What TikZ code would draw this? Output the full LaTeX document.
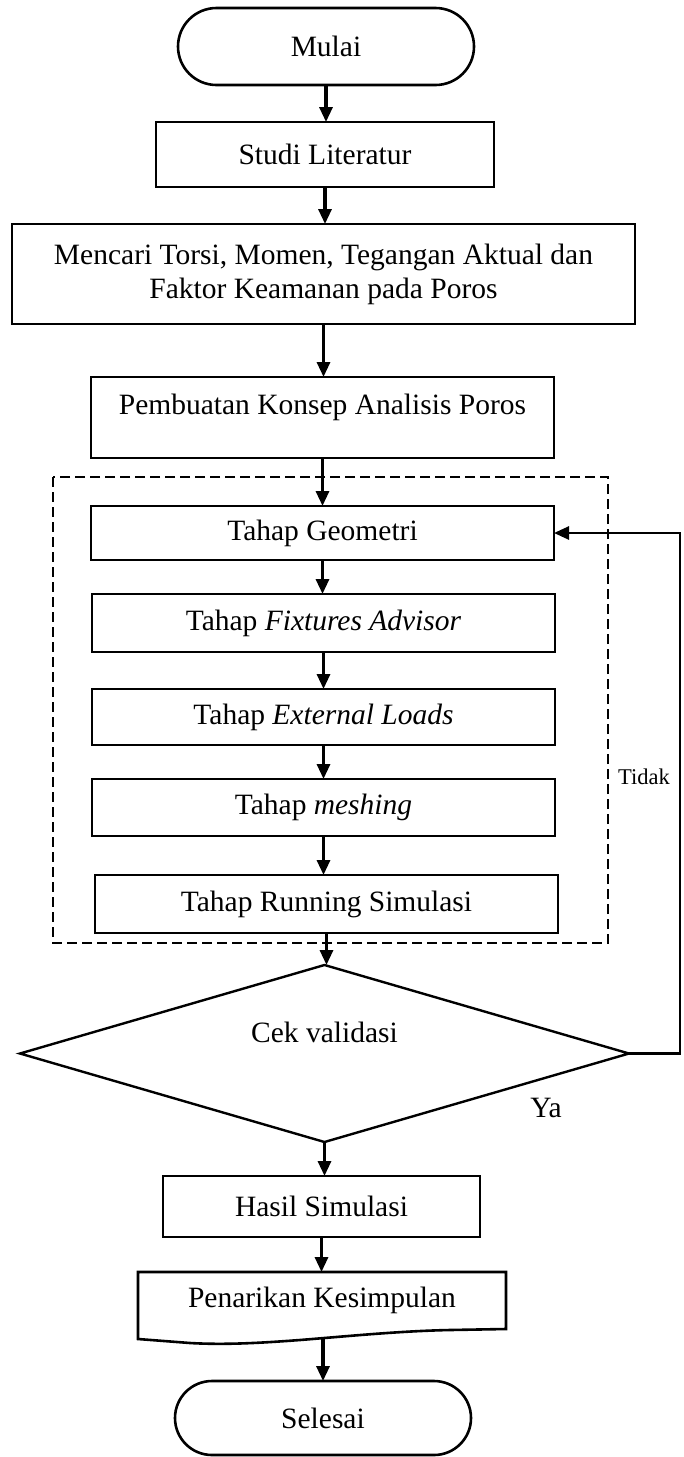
\documentclass[tikz,border=0pt]{standalone}
\usepackage{fontspec}
\setmainfont{Liberation Serif}
\usetikzlibrary{shapes.misc,shapes.geometric,arrows.meta}
\begin{document}
\begin{tikzpicture}[x=1pt,y=-1pt,
  base/.style={font=\fontsize{29.5}{34}\selectfont, inner sep=0pt, outer sep=0pt},
  box/.style={base, draw, line width=2.8pt, rectangle},
  term/.style={base, draw, line width=2.6pt, rounded rectangle, minimum width=296pt},
  flow/.style={line width=3.2pt, -{Triangle[length=15pt,width=13pt]}},
  loop/.style={line width=2.6pt, -{Triangle[length=15pt,width=13pt]}},
  groupline/.style={line width=2.2pt, dash pattern=on 10pt off 5pt}
]
\useasboundingbox (0,0) rectangle (684,1457);

% group of simulation steps
\draw[groupline] (53,477) rectangle (608,943);

% main column
\node[term, minimum height=77pt] (mulai) at (326,46.5) {Mulai};
\node[box, minimum width=338pt, minimum height=65pt] (studi) at (325,154.5) {Studi Literatur};
\node[box, minimum width=623pt, minimum height=100pt, align=center] (mencari) at (323.5,274)
  {Mencari Torsi, Momen, Tegangan Aktual dan\\Faktor Keamanan pada Poros};
\node[box, minimum width=463pt, minimum height=81pt] (konsep) at (322.5,417.5) {};
\node[base] (konseptext) at (322.5,407) {Pembuatan Konsep Analisis Poros};
\node[box, minimum width=463pt, minimum height=54pt] (geo) at (322.5,533) {Tahap Geometri};
\node[box, minimum width=463pt, minimum height=58pt] (fix) at (323.5,623) {Tahap \textit{Fixtures Advisor}};
\node[box, minimum width=463pt, minimum height=56pt] (ext) at (323.5,717) {Tahap \textit{External Loads}};
\node[box, minimum width=463pt, minimum height=57pt] (mesh) at (323.5,807.5) {Tahap \textit{meshing}};
\node[box, minimum width=463pt, minimum height=58pt] (run) at (326.5,904) {Tahap Running Simulasi};
\node[base, draw, line width=2.4pt, diamond, minimum width=609pt, minimum height=177pt] (cek) at (324.5,1053.5) {};
\node[base] (cektext) at (324.5,1032) {Cek validasi};
\node[box, minimum width=317pt, minimum height=61pt] (hasil) at (321.5,1206.5) {Hasil Simulasi};

% document shape with a wavy lower edge
\node[base, minimum width=368pt, minimum height=67pt] (pen) at (322,1305.5) {};
\node[base] (pentext) at (322,1300) {Penarikan Kesimpulan};
\draw[line width=2.6pt, line join=miter]
  (pen.north west) -- (pen.north east) -- (506,1329) -- (450,1330)
  .. controls (400,1331) and (350,1336) .. (300,1340)
  .. controls (260,1343) and (225,1345) .. (190,1343)
  -- (pen.south west) -- cycle;
\coordinate (penb) at (323,1339);

\node[term, minimum height=74pt] (selesai) at (323,1418) {Selesai};

% connectors
\draw[flow] (mulai.south) -- (mulai.south |- studi.north);
\draw[flow] (studi.south) -- (studi.south |- mencari.north);
\draw[flow] (mencari.south) -- (mencari.south |- konsep.north);
\draw[flow] (konsep.south) -- (konsep.south |- geo.north);
\draw[flow] (geo.south) -- (geo.south |- fix.north);
\draw[flow] (fix.south) -- (fix.south |- ext.north);
\draw[flow] (ext.south) -- (ext.south |- mesh.north);
\draw[flow] (mesh.south) -- (mesh.south |- run.north);
\draw[flow] (run.south) -- (run.south |- cek.north);
\draw[flow] (cek.south) -- (cek.south |- hasil.north);
\draw[flow] (hasil.south) -- (hasil.south |- pen.north);
\draw[flow] (penb) -- (penb |- selesai.north);

% feedback loop
\draw[loop] (cek.east) -- (680,1053.5) |- (geo.east);

% branch labels
\node[base, font=\fontsize{22.5}{26}\selectfont] (tidak) at (644,777) {Tidak};
\node[base] (ya) at (546,1108) {Ya};
\end{tikzpicture}
\end{document}
